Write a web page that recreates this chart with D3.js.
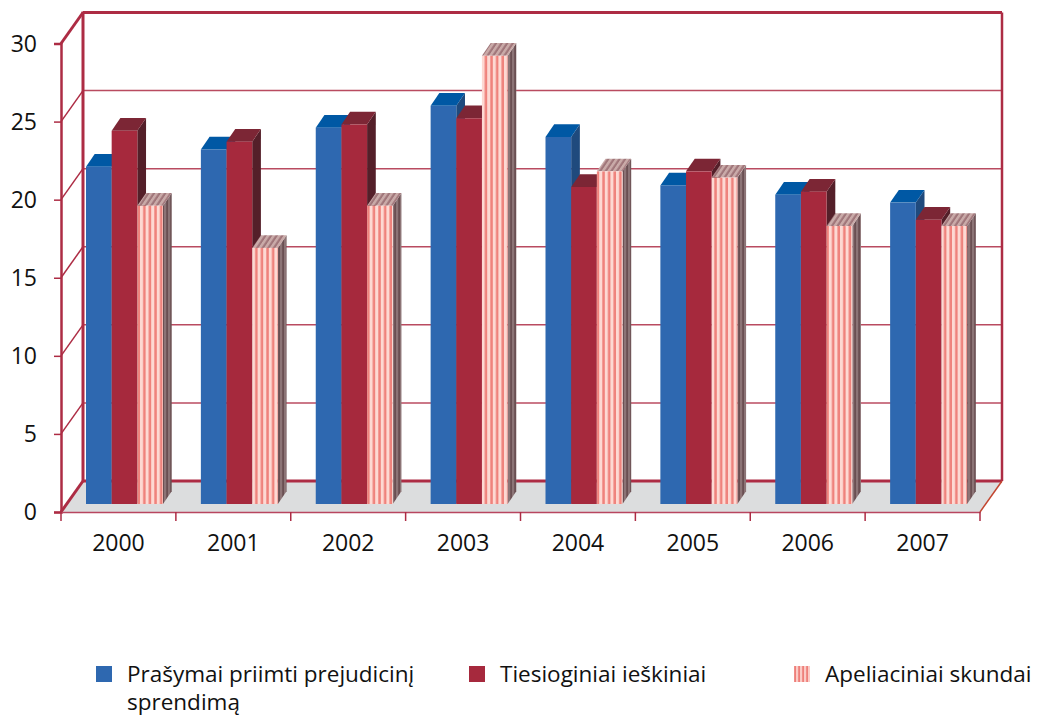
<!DOCTYPE html>
<html>
<head>
  <meta charset="utf-8">
  <script src="https://d3js.org/d3.v7.min.js"></script>
  <style>
    body { margin:0; background:#fff; }
    text { font-family:"Open Sans",sans-serif; fill:#111; }
  </style>
</head>
<body>
  <svg id="chart" width="1037" height="717"></svg>
  <script>
    const years = ['2000', '2001', '2002', '2003', '2004', '2005', '2006', '2007'];
    const yTicks = [0, 5, 10, 15, 20, 25, 30];
    const prasymai = [21.6, 22.7, 24.1, 25.5, 23.5, 20.4, 19.8, 19.3];
    const ieskiniai = [23.9, 23.2, 24.3, 24.7, 20.3, 21.3, 20.0, 18.2];
    const skundai = [19.1, 16.4, 19.1, 28.7, 21.3, 20.9, 17.8, 17.8];
    const seriesNames = ['Prašymai priimti prejudicinį', 'Tiesioginiai ieškiniai', 'Apeliaciniai skundai'];

    const wine = '#ad2c44';
    const wall = { dx: 22, dy: 31 };   // depth of the chart box
    const bar = { dx: 8.7, dy: 12.7, lift: 8 };   // depth of a single bar

    const svg = d3.select('#chart');
    const x = d3.scaleBand().domain(years).range([61, 980]);
    const inner = d3.scaleBand().domain([0, 1, 2]).range([25, 102]);
    const y = d3.scaleLinear().domain([0, 30]).range([512, 43.5]);

    // striped fills for the third series
    const defs = svg.append('defs');
    function stripes(id, a, b, w) {
      const p = defs.append('pattern').attr('id', id)
        .attr('patternUnits', 'userSpaceOnUse')
        .attr('width', w).attr('height', 10);
      p.append('rect').attr('width', w).attr('height', 10).attr('fill', a);
      p.append('rect').attr('x', w * 0.55).attr('width', w * 0.45).attr('height', 10).attr('fill', b);
      return p;
    }
    stripes('pinkFront', '#fdd9d3', '#ef827c', 5.6);
    stripes('pinkTop', '#c9aaa8', '#a0767a', 5.6).attr('patternTransform', 'skewX(-34)');
    stripes('pinkSide', '#8c7476', '#6a4f52', 4);
    stripes('pinkKey', '#fbcbc6', '#ee7f7a', 4);

    const styles = [
      { front: '#2e68b0', top: '#0058a4', side: '#1f4a7d' },
      { front: '#a6293d', top: '#7c2635', side: '#541f29' },
      { front: 'url(#pinkFront)', top: 'url(#pinkTop)', side: 'url(#pinkSide)' }
    ];

    // floor
    svg.append('polygon')
      .attr('points', [[x.range()[0], y(0)], [x.range()[0] + wall.dx, y(0) - wall.dy],
        [x.range()[1] + wall.dx, y(0) - wall.dy], [x.range()[1], y(0)]].join(' '))
      .attr('fill', '#dcddde');

    // back wall grid and side wall diagonals
    const grid = svg.append('g').attr('stroke', wine).attr('fill', 'none');
    yTicks.forEach(t => {
      const edge = t === 0 || t === 30;
      grid.append('line')
        .attr('x1', x.range()[0] + wall.dx).attr('x2', x.range()[1] + wall.dx)
        .attr('y1', y(t) - wall.dy).attr('y2', y(t) - wall.dy)
        .attr('stroke-width', edge ? 3 : 1.5)
        .attr('stroke-opacity', edge ? 1 : 0.85);
      grid.append('line')
        .attr('x1', x.range()[0]).attr('x2', x.range()[0] + wall.dx)
        .attr('y1', y(t)).attr('y2', y(t) - wall.dy)
        .attr('stroke-width', edge ? 3 : 1.5);
    });
    grid.append('line')
      .attr('x1', x.range()[0] + wall.dx).attr('x2', x.range()[0] + wall.dx)
      .attr('y1', y(30) - wall.dy - 1).attr('y2', y(0) - wall.dy)
      .attr('stroke-width', 3);
    grid.append('line')
      .attr('x1', x.range()[1] + wall.dx).attr('x2', x.range()[1] + wall.dx)
      .attr('y1', y(30) - wall.dy).attr('y2', y(0) - wall.dy)
      .attr('stroke-width', 2.5);
    grid.append('line')
      .attr('x1', x.range()[1]).attr('x2', x.range()[1] + wall.dx)
      .attr('y1', y(0)).attr('y2', y(0) - wall.dy)
      .attr('stroke', '#c2452f').attr('stroke-width', 1.5);

    // bars, left to right so later bars cover the sides of earlier ones
    [prasymai, ieskiniai, skundai].forEach((values, s) => {
      const g = svg.append('g');
      values.forEach((v, i) => {
        const x0 = x(years[i]) + inner(s);
        const x1 = x0 + inner.bandwidth();
        const top = y(v) - bar.lift;
        const base = y(0) - bar.lift;
        g.append('polygon')
          .attr('points', [[x1, top], [x1 + bar.dx, top - bar.dy], [x1 + bar.dx, base - bar.dy], [x1, base]].join(' '))
          .attr('fill', styles[s].side);
        g.append('polygon')
          .attr('points', [[x0, top], [x0 + bar.dx, top - bar.dy], [x1 + bar.dx, top - bar.dy], [x1, top]].join(' '))
          .attr('fill', styles[s].top);
        g.append('rect')
          .attr('x', x0).attr('y', top)
          .attr('width', inner.bandwidth()).attr('height', base - top)
          .attr('fill', styles[s].front);
      });
    });

    // axes
    const yAxis = svg.append('g')
      .attr('transform', `translate(${x.range()[0]},0)`)
      .call(d3.axisLeft(y).tickValues(yTicks).tickSize(7).tickPadding(17));
    yAxis.select('.domain').attr('stroke', wine).attr('stroke-width', 2.5);
    yAxis.selectAll('line').attr('stroke', wine).attr('stroke-width', 1.5);
    yAxis.selectAll('text').style('font-size', '23px').attr('fill', '#111').attr('dy', '0.34em');

    const xAxis = svg.append('g')
      .attr('transform', `translate(0,${y(0)})`)
      .call(d3.axisBottom(x).tickSize(0).tickPadding(23));
    xAxis.select('.domain').attr('stroke', '#b8465f').attr('stroke-width', 1.5);
    xAxis.selectAll('text').style('font-size', '23px').attr('fill', '#111');
    xAxis.selectAll('.edge').data(years.concat('end')).enter().append('line')
      .attr('x1', d => d === 'end' ? x.range()[1] : x(d))
      .attr('x2', d => d === 'end' ? x.range()[1] : x(d))
      .attr('y1', 0).attr('y2', 9)
      .attr('stroke', wine).attr('stroke-width', 1.5);

    // legend
    const keyFill = ['#2e68b0', '#a6293d', 'url(#pinkKey)'];
    const keyX = d3.scaleOrdinal().domain([0, 1, 2]).range([96, 469, 794]);
    const legend = svg.append('g');
    seriesNames.forEach((name, i) => {
      legend.append('rect')
        .attr('x', keyX(i)).attr('y', 666)
        .attr('width', 16).attr('height', 16)
        .attr('fill', keyFill[i]);
      legend.append('text')
        .attr('x', keyX(i) + 31).attr('y', 682)
        .style('font-size', '22.5px')
        .text(name);
    });
    legend.append('text')
      .attr('x', keyX(0) + 31).attr('y', 710)
      .style('font-size', '22.5px')
      .text('sprendimą');
  </script>
</body>
</html>
